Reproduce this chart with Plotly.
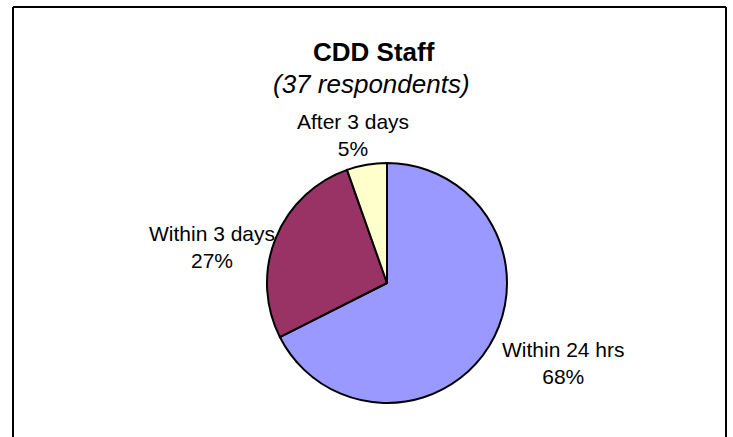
import plotly.graph_objects as go

categories = ["Within 24 hrs", "Within 3 days", "After 3 days"]
counts = [25, 10, 2]
colors = ["#9999FF", "#993366", "#FFFFCC"]
title = "CDD Staff"
subtitle = "(37 respondents)"

W, H = 733, 437
cx, cy, r = 387, 283, 120
FONT = "Liberation Sans, Arial, sans-serif"

# label block centres (pixels relative to the pie centre) - layout only
label_offsets = [(176, 80), (-175, -36), (-34, -148)]

fig = go.Figure(go.Pie(
    labels=categories,
    values=counts,
    sort=False,
    direction="clockwise",
    rotation=0,
    marker=dict(colors=colors, line=dict(color="black", width=2)),
    textinfo="none",
    hoverinfo="label+percent",
    showlegend=False,
    automargin=False,
    domain=dict(x=[(cx - 200) / W, (cx + 200) / W], y=[(H - cy - r) / H, (H - cy + r) / H]),
))

total = sum(counts)
annotations = [
    dict(text="<b>" + title + "</b>", x=374 / W, y=1 - 52 / H, xref="paper", yref="paper",
         showarrow=False, font=dict(size=26, family=FONT, color="black"), xanchor="center", yanchor="middle"),
    dict(text="<i>" + subtitle + "</i>", x=371 / W, y=1 - 84 / H, xref="paper", yref="paper",
         showarrow=False, font=dict(size=26, family=FONT, color="black"), xanchor="center", yanchor="middle"),
]
for cat, v, (dx, dy) in zip(categories, counts, label_offsets):
    pct = round(100 * v / total)
    annotations.append(dict(
        text=f"{cat}<br>{pct}%", x=(cx + dx) / W, y=1 - (cy + dy) / H, xref="paper", yref="paper",
        showarrow=False, align="center", xanchor="center", yanchor="middle",
        font=dict(size=21, family=FONT, color="black"),
    ))

fig.update_layout(
    width=W, height=H,
    margin=dict(l=0, r=0, t=0, b=0),
    paper_bgcolor="white",
    plot_bgcolor="white",
    font=dict(family=FONT, color="black"),
    shapes=[
        dict(type="line", xref="paper", yref="paper", x0=13 / W, x1=13 / W, y0=-0.1, y1=1 - 7 / H,
             line=dict(color="black", width=2)),
        dict(type="line", xref="paper", yref="paper", x0=13 / W, x1=726 / W, y0=1 - 7 / H, y1=1 - 7 / H,
             line=dict(color="black", width=2)),
        dict(type="line", xref="paper", yref="paper", x0=726 / W, x1=726 / W, y0=-0.1, y1=1 - 7 / H,
             line=dict(color="black", width=2)),
    ],
    annotations=annotations,
)

fig.write_html("out.html")
